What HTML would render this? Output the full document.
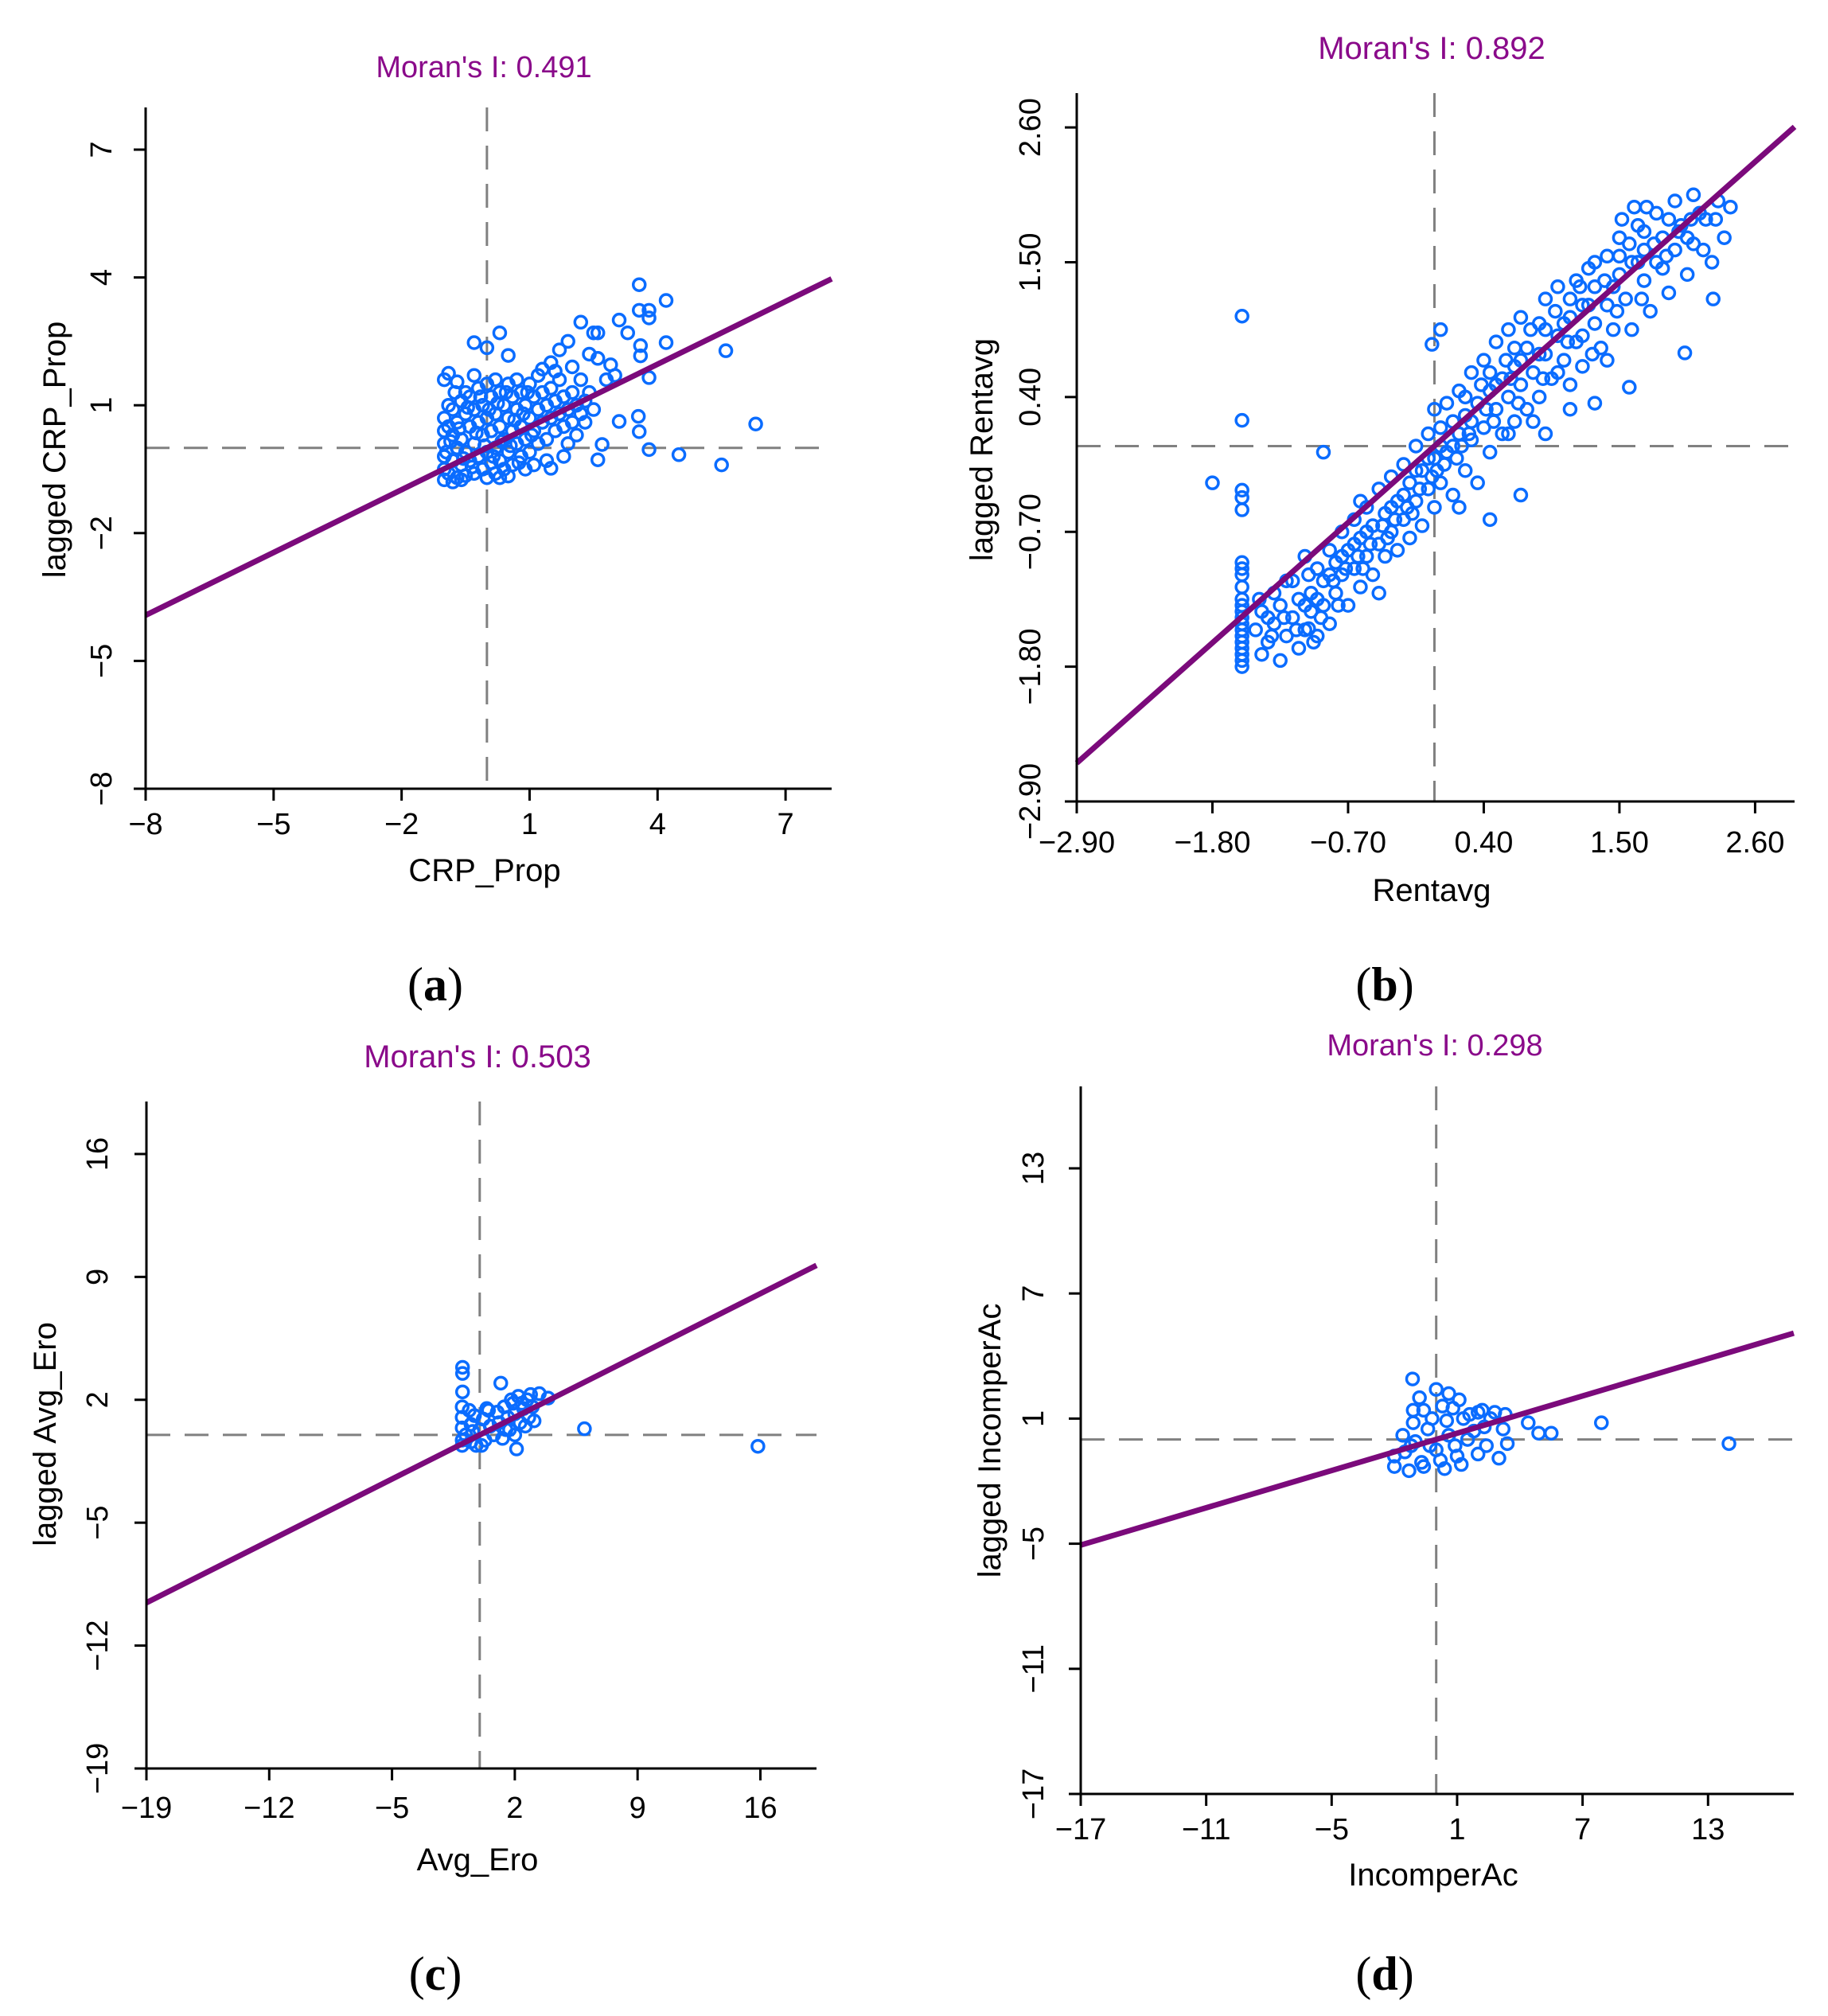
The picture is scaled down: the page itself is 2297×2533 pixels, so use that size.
<!DOCTYPE html>
<html><head><meta charset="utf-8"><style>
html,body{margin:0;padding:0;background:#fff;}
svg{display:block;}
text{font-family:"Liberation Sans",sans-serif;}
</style></head><body>
<svg id="fig" width="2297" height="2533" viewBox="0 0 2297 2533" xmlns="http://www.w3.org/2000/svg"></svg>
<script>
// ---------- data ----------
const moranA = 0.491, moranB = 0.892, moranC = 0.503, moranD = 0.298;
const ticksA = [-8,-5,-2,1,4,7];
const ticksB = [-2.90,-1.80,-0.70,0.40,1.50,2.60];
const ticksC = [-19,-12,-5,2,9,16];
const ticksD = [-17,-11,-5,1,7,13];

const pointsA = [
[3.57,3.83],[4.2,3.46],[3.57,3.23],[3.8,3.23],[3.8,3.05],[3.1,3.0],[2.2,2.95],[3.3,2.7],[5.6,2.28],[4.2,2.47],
[3.6,2.4],[3.6,2.16],[3.8,1.65],[6.3,0.56],[3.1,0.62],[3.55,0.74],[3.57,0.38],[3.8,-0.04],[4.5,-0.16],[5.5,-0.4],
[2.6,-0.28],[2.7,0.08],[0.3,2.7],[-0.3,2.47],[0.0,2.35],[0.5,2.17],[-0.9,1.75],[-0.3,1.7],[1.5,-0.48],[0.5,-0.66],
[2.5,2.7],[2.6,2.7],[2.4,2.2],[2.6,2.1],[2.9,1.95],[3.0,1.7],[2.8,1.6],[1.7,2.3],[1.9,2.5],[1.5,2.0],
[1.3,1.85],[2.0,1.9],[2.2,1.6],[2.4,1.3],[2.5,0.9],[2.3,0.6],[2.1,0.3],[1.9,0.1],[1.8,-0.2],[-1.0,1.6],
[-0.7,1.55],[-0.5,1.3],[-0.9,1.0],[-1.0,0.7],[-1.0,0.4],[-1.0,0.1],[-1.0,-0.2],[-1.0,-0.5],[-1.0,-0.75],[-0.9,-0.6],
[-0.8,0.9],[-0.8,0.3],[-0.8,-0.3],[-0.7,0.6],[-0.7,0.0],[-0.7,-0.7],[-0.6,1.1],[-0.6,0.2],[-0.6,-0.4],[-0.5,0.8],
[-0.5,-0.1],[-0.5,-0.65],[-0.4,1.2],[-0.4,0.5],[-0.4,-0.3],[-0.3,0.9],[-0.3,0.1],[-0.3,-0.6],[-0.2,1.4],[-0.2,0.6],
[-0.2,-0.2],[-0.1,1.0],[-0.1,0.3],[-0.1,-0.5],[0.0,1.5],[0.0,0.7],[0.0,-0.1],[0.0,-0.7],[0.1,1.2],[0.1,0.4],
[0.1,-0.35],[0.2,1.6],[0.2,0.8],[0.2,0.0],[0.2,-0.6],[0.3,1.3],[0.3,0.5],[0.3,-0.3],[0.4,1.0],[0.4,0.2],
[0.4,-0.5],[0.5,1.5],[0.5,0.7],[0.5,-0.1],[0.6,1.2],[0.6,0.4],[0.6,-0.4],[0.7,1.6],[0.7,0.9],[0.7,0.1],
[0.8,1.3],[0.8,0.5],[0.8,-0.2],[0.9,1.0],[0.9,0.2],[0.9,-0.5],[1.0,1.5],[1.0,0.7],[1.0,-0.1],[1.1,1.2],
[1.1,0.4],[1.2,1.7],[1.2,0.9],[1.2,0.1],[1.3,1.3],[1.3,0.6],[1.4,1.0],[1.4,0.2],[1.5,1.4],[1.5,0.7],
[1.6,1.1],[1.6,0.4],[1.7,1.6],[1.7,0.8],[1.8,1.2],[1.8,0.5],[1.9,0.9],[2.0,1.3],[2.0,0.6],[2.1,1.0],
[2.2,0.8],[2.3,1.1],[1.4,-0.3],[1.1,-0.4],[0.3,-0.7],[-0.8,-0.8],[-0.6,-0.75],[-0.9,0.5],[-0.95,-0.1],[1.6,1.8],
[-0.85,0.15],[-0.75,1.3],[-0.65,0.45],[-0.55,-0.25],[-0.45,0.95],[-0.35,-0.45],[-0.25,0.35],[-0.15,1.2],[-0.05,0.05],[0.05,0.9],
[0.15,-0.2],[0.25,1.05],[0.35,0.15],[0.45,1.3],[0.55,0.05],[0.65,0.65],[0.75,-0.35],[0.85,0.8],[0.95,1.3],[1.05,0.3]
];

const pointsB = [
[-1.45,-1.5],[-1.4,-1.35],[-1.4,-1.7],[-1.35,-1.6],[-1.3,-1.2],[-1.3,-1.45],[-1.25,-1.75],[-1.25,-1.3],[-1.2,-1.55],[-1.2,-1.1],
[-1.15,-1.4],[-1.1,-1.25],[-1.1,-1.65],[-1.05,-0.9],[-1.05,-1.5],[-1.0,-1.2],[-1.0,-1.35],[-0.95,-1.0],[-0.95,-1.55],[-0.9,-1.1],
[-0.9,-1.3],[-0.85,-0.85],[-0.85,-1.45],[-0.8,-0.95],[-0.8,-1.2],[-0.75,-0.7],[-0.75,-1.05],[-0.7,-0.85],[-0.7,-1.3],[-0.65,-0.6],
[-0.65,-1.0],[-0.6,-0.75],[-0.6,-1.15],[-0.55,-0.5],[-0.55,-0.9],[-0.5,-0.65],[-0.5,-1.05],[-0.45,-1.2],[-1.02,-1.49],
[-0.45,-0.35],[-0.45,-0.8],[-0.4,-0.55],[-0.4,-0.9],[-0.35,-0.25],[-0.35,-0.7],[-0.3,-0.45],[-0.3,-0.85],[-0.25,-0.15],[-0.25,-0.6],
[-0.2,-0.3],[-0.2,-0.75],[-0.15,0.0],[-0.15,-0.45],[-0.1,-0.2],[-0.1,-0.65],[-0.05,0.1],[-0.05,-0.35],[0,-0.1],[0,-0.5],
[0,0.3],[0.05,0.15],[0.05,-0.3],[0.1,0.35],[0.1,-0.05],[0.15,0.0],[0.15,-0.4],[0.2,0.45],[0.2,0.1],[0.25,-0.2],
[0.25,0.25],[0.3,0.6],[0.3,0.05],[0.35,0.35],[0.35,-0.3],[0.4,0.15],[0.4,0.7],[0.45,0.45],[0.45,-0.05],[0.5,0.3],
[0.5,0.85],[0.55,0.55],[0.55,0.1],[0.6,0.4],[0.6,0.95],[0.65,0.65],[0.65,0.2],[0.7,0.5],[0.7,1.05],[0.75,0.8],
[0.75,0.3],[0.8,0.6],[0.85,1.0],[0.85,0.4],[0.9,0.75],[0.9,1.2],[0.95,0.55],[1.0,0.9],[1.0,1.3],[1.05,0.7],
[1.1,1.05],[1.1,0.5],[1.15,1.35],[1.15,0.85],[1.2,1.15],[1.2,0.65],[1.25,1.45],[1.3,1.0],[1.3,1.3],[1.35,0.8],
[1.4,1.55],[1.4,1.15],[1.45,0.95],[1.5,1.4],[1.5,1.7],[1.55,1.2],[1.6,1.5],[1.6,0.95],[1.65,1.8],[1.7,1.35],
[1.7,1.6],[1.75,1.1],[1.8,1.9],[1.8,1.5],[1.85,1.7],[1.9,1.25],[1.95,2.0],[1.95,1.6],[2.0,1.8],[2.05,1.4],
[2.1,2.05],[2.1,1.65],[2.2,1.85],[2.25,1.5],[2.3,2.0],[2.35,1.7],[2.4,1.95],[-0.02,0.83],[0.05,0.95],[1.58,0.48],
[2.03,0.76],[2.26,1.2],[1.1,0.3],[0.9,0.1],[0.2,-0.5],[-1.8,-0.3],[-0.9,-0.05],[0.7,-0.4],[0.45,-0.6],[1.3,0.35],
[-1.35,-1.4],[-1.15,-1.1],[-0.95,-1.25],[-0.75,-0.9],[-0.55,-0.7],[-0.35,-0.5],[-0.15,-0.2],[0.05,0.0],[0.25,0.4],[0.45,0.6],
[0.65,0.8],[0.85,0.75],[1.05,1.0],[1.25,1.15],[1.45,1.3],[1.65,1.5],[1.85,1.45],[2.05,1.7],[0.3,0.2],[0.5,0.5],
[0.7,0.7],[0.9,0.95],[1.1,1.2],[1.3,1.5],[1.5,1.55],[1.7,1.75],[1.9,1.85],[2.15,1.9],[-0.65,-0.8],[-0.85,-1.05],
[-1.05,-1.3],[-0.25,-0.4],[-0.05,-0.1],[0.15,0.2],[1.0,0.6],[1.2,0.9],[1.4,0.7],[0.8,0.2],[0.6,0.1],[-0.6,-0.45],
[-1.42,-1.25],[-1.32,-1.55],[-1.22,-1.4],[-1.12,-1.5],[-1.02,-1.05],[-0.92,-1.4],[-0.82,-1.1],[-0.72,-1.0],[-0.62,-0.9],[-0.52,-0.8],
[-0.42,-0.65],[-0.32,-0.6],[-0.22,-0.5],[-0.12,-0.35],[-0.02,-0.25],[0.08,-0.15],[0.18,-0.1],[0.28,0.1],[0.38,0.5],[0.48,0.2],
[0.58,0.7],[0.68,0.35],[0.78,0.95],[0.88,0.55],[0.98,1.1],[1.08,0.85],[1.18,1.3],[1.28,0.75],[1.38,1.35],[1.48,1.1],
[1.58,1.65],[1.68,1.2],[1.78,1.65],[1.88,1.55],[1.98,1.75],[2.08,1.85],[2.18,1.6],[2.28,1.85],[1.52,1.85],[1.62,1.95],
[1.72,1.95],[0.62,0.55],[0.42,0.3],[0.22,0.0],[0.02,-0.2],[-0.18,-0.55],[-0.38,-0.75],[-0.58,-1.0],[-0.78,-1.3],[-0.98,-1.6],
[-1.56,1.06],[-1.56,0.21],[-1.56,-0.36],[-1.56,-0.42],[-1.56,-0.52],[-1.56,-0.95],[-1.56,-1.0],[-1.56,-1.05],[-1.56,-1.15],[-1.56,-1.25],
[-1.56,-1.3],[-1.56,-1.35],[-1.56,-1.4],[-1.56,-1.45],[-1.56,-1.5],[-1.56,-1.55],[-1.56,-1.6],[-1.56,-1.65],[-1.56,-1.7],[-1.56,-1.75],[-1.56,-1.8]
];

const pointsC = [
[-0.98,3.85],[-0.98,3.5],[-0.98,2.45],[1.2,2.95],[5.97,0.35],[15.86,-0.65],[2.9,2.3],[3.4,2.35],[3.9,2.1],[2.4,1.8],
[-1.0,1.6],[-1.0,1.0],[-1.0,0.4],[-1.0,-0.3],[-1.0,-0.6],[-0.6,1.4],[-0.5,0.6],[-0.5,-0.4],[-0.3,1.1],[-0.2,-0.6],
[0.0,0.3],[0.2,0.9],[0.3,-0.3],[0.5,1.4],[0.6,0.5],[0.8,0.0],[1.0,1.3],[1.1,0.7],[1.3,-0.2],[1.4,1.6],
[1.6,1.0],[1.7,0.3],[1.9,1.8],[2.0,1.2],[2.0,0.0],[2.1,-0.8],[2.3,0.7],[2.5,1.5],[2.7,2.0],[2.8,1.0],
[3.0,1.6],[3.1,0.8],[2.2,2.2],[1.8,2.0],[0.4,1.5],[-0.8,0.0],[-0.4,0.2],[0.1,-0.6],[1.5,0.3],[2.6,0.5]
];

const pointsD = [
[-1.13,2.9],[4.4,0.8],[4.9,0.3],[5.5,0.3],[7.9,0.8],[14.0,-0.2],[0.0,2.4],[0.6,2.2],[1.1,1.9],[-1.1,1.4],
[-0.6,1.4],[0.3,1.6],[2.0,1.3],[2.8,1.3],[-1.1,0.8],[-0.4,0.5],[0.5,0.9],[1.3,1.0],[2.3,0.6],[3.2,0.5],
[-1.0,-0.1],[-0.3,-0.3],[0.6,0.2],[1.5,0.0],[2.4,-0.3],[3.4,-0.2],[-2.0,-0.8],[-1.5,-0.6],[-0.7,-1.1],[0.2,-1.0],
[1.0,-0.8],[2.0,-0.7],[3.0,-0.9],[-2.0,-1.3],[-1.3,-1.5],[-0.6,-1.3],[0.4,-1.4],[1.2,-1.2],[2.6,1.0],[1.8,0.4],
[-0.2,1.0],[0.8,1.5],[-1.6,0.2],[0.0,-0.5],[3.3,1.2],[-1.2,-0.3],[0.9,-0.3],[1.6,1.2],[2.2,1.4],[-0.8,2.0]
];

// ---------- rendering ----------
const NS = "http://www.w3.org/2000/svg";
const svg = document.getElementById('fig');
function mk(tag, attrs, parent) {
  const e = document.createElementNS(NS, tag);
  for (const k in attrs) e.setAttribute(k, attrs[k]);
  (parent || svg).appendChild(e);
  return e;
}

const panels = [
 {id:'a', moran:moranA, ticks:ticksA, pts:pointsA, xlab:'CRP_Prop', ylab:'lagged CRP_Prop', dec:0,
  px0:183, px1:1045, py0:991, py1:135, x0:-8, x1:8.08, y0:-8, y1:7.99,
  titleX:608, titleY:97, xlabY:1107, yTickX:140, ylabX:82, ylabY:565, xTickY:1048, tagX:547, tagY:1257, tsize:38},
 {id:'b', moran:moranB, ticks:ticksB, pts:pointsB, xlab:'Rentavg', ylab:'lagged Rentavg', dec:2,
  px0:1353, px1:2255, py0:1007, py1:117, x0:-2.9, x1:2.92, y0:-2.9, y1:2.88,
  titleX:1799, titleY:74, xlabY:1132, yTickX:1307, ylabX:1247, ylabY:565, xTickY:1071, tagX:1740, tagY:1257, tsize:40},
 {id:'c', moran:moranC, ticks:ticksC, pts:pointsC, xlab:'Avg_Ero', ylab:'lagged Avg_Ero', dec:0,
  px0:184, px1:1026, py0:2222, py1:1384, x0:-19, x1:19.2, y0:-19, y1:18.99,
  titleX:600, titleY:1341, xlabY:2350, yTickX:135, ylabX:70, ylabY:1802, xTickY:2284, tagX:547, tagY:2500, tsize:40},
 {id:'d', moran:moranD, ticks:ticksD, pts:pointsD, xlab:'IncomperAc', ylab:'lagged IncomperAc', dec:0,
  px0:1358, px1:2254, py0:2254, py1:1365, x0:-17, x1:17.1, y0:-17, y1:16.93,
  titleX:1803, titleY:1326, xlabY:2369, yTickX:1311, ylabX:1257, ylabY:1810, xTickY:2311, tagX:1740, tagY:2500, tsize:38}
];

function fmt(v, dec) {
  const s = Math.abs(v).toFixed(dec);
  return (v < 0 ? '\u2212' : '') + s;
}

panels.forEach(p => {
  const sx = v => p.px0 + (v - p.x0) / (p.x1 - p.x0) * (p.px1 - p.px0);
  const sy = v => p.py0 - (v - p.y0) / (p.y1 - p.y0) * (p.py0 - p.py1);
  const g = mk('g', {});
  
  

  const t = mk('text', {x:p.titleX, y:p.titleY, 'text-anchor':'middle', 'font-size':p.tsize, fill:'#8a0a8a'}, g);
  t.textContent = "Moran's I: " + p.moran.toFixed(3);
  
  

  const vd = mk('line', {x1:sx(0), x2:sx(0), y1:p.py1, y2:p.py0, stroke:'#808080', 'stroke-width':3, 'stroke-dasharray':'30 18'}, g);
  
  
  const hd = mk('line', {x1:p.px0, x2:p.px1, y1:sy(0), y2:sy(0), stroke:'#808080', 'stroke-width':3, 'stroke-dasharray':'30 18'}, g);
  
  

  const pg = mk('g', {}, g);
  
  
  p.pts.forEach(pt => {
    const c = mk('circle', {cx:sx(pt[0]), cy:sy(pt[1]), r:7.5, fill:'none', stroke:'#0a6cff', 'stroke-width':3.5}, pg);
    
    
  });

  const rl = mk('line', {x1:sx(p.x0), y1:sy(p.moran * p.x0), x2:sx(p.x1), y2:sy(p.moran * p.x1), stroke:'#7b0a7b', 'stroke-width':7}, g);
  
  

  const ya = mk('line', {x1:p.px0, x2:p.px0, y1:p.py1, y2:p.py0 + 1.5, stroke:'#000', 'stroke-width':3}, g);
  
  
  const xa = mk('line', {x1:p.px0 - 1.5, x2:p.px1, y1:p.py0, y2:p.py0, stroke:'#000', 'stroke-width':3}, g);
  
  

  p.ticks.forEach(v => {
    const X = sx(v), Y = sy(v);
    const tx = mk('line', {x1:X, x2:X, y1:p.py0, y2:p.py0 + 15, stroke:'#000', 'stroke-width':3}, g);
    
    
    const lx = mk('text', {x:X, y:p.xTickY, 'text-anchor':'middle', 'font-size':38, fill:'#000'}, g);
    lx.textContent = fmt(v, p.dec);
    
    
    const ty = mk('line', {x1:p.px0 - 15, x2:p.px0, y1:Y, y2:Y, stroke:'#000', 'stroke-width':3}, g);
    
    
    const ly = mk('text', {x:p.yTickX, y:Y, 'text-anchor':'middle', 'font-size':38, fill:'#000', transform:'rotate(-90 ' + p.yTickX + ' ' + Y + ')'}, g);
    ly.textContent = fmt(v, p.dec);
    
    
  });

  const xl = mk('text', {x:(p.px0 + p.px1) / 2 - 5, y:p.xlabY, 'text-anchor':'middle', 'font-size':40, fill:'#000'}, g);
  xl.textContent = p.xlab;
  
  
  const yl = mk('text', {x:p.ylabX, y:p.ylabY, 'text-anchor':'middle', 'font-size':40, fill:'#000', transform:'rotate(-90 ' + p.ylabX + ' ' + p.ylabY + ')'}, g);
  yl.textContent = p.ylab;
  
  

  const tag = mk('text', {x:p.tagX, y:p.tagY, 'text-anchor':'middle', 'font-size':60, fill:'#000', style:'font-family:"Liberation Serif",serif'}, g);
  tag.innerHTML = '(<tspan font-weight="bold">' + p.id + '</tspan>)';
  
  
});
</script>
</body></html>
